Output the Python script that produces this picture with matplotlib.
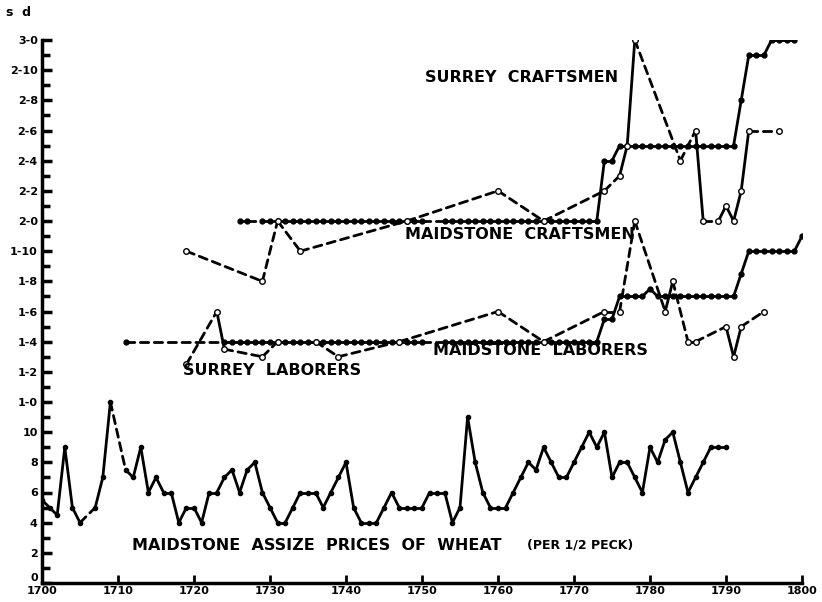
"""
Maidstone / Surrey wages vs Maidstone assize prices of wheat, 1700-1800.
Values in pence (s-d labels on the y axis).
"""

import matplotlib.pyplot as plt

# ---- data (years, pence) ----
WHEAT_YEARS = [1700, 1701, 1702, 1703, 1704, 1705, 1707, 1708, 1709] + list(range(1711, 1791))
WHEAT_VALS = [5.5, 5, 4.5, 9, 5, 4, 5, 7, 12,
              7.5, 7, 9, 6, 7, 6, 6, 4, 5, 5,
              4, 6, 6, 7, 7.5, 6, 7.5, 8, 6, 5,
              4, 4, 5, 6, 6, 6, 5, 6, 7, 8,
              5, 4, 4, 4, 5, 6, 5, 5, 5, 5,
              6, 6, 6, 4, 5, 11, 8, 6, 5, 5,
              5, 6, 7, 8, 7.5, 9, 8, 7, 7, 8,
              9, 10, 9, 10, 7, 8, 8, 7, 6, 9,
              8, 9.5, 10, 8, 6, 7, 8, 9, 9, 9]

MAID_CRAFT_YEARS = [1726, 1727] + list(range(1729, 1751)) + list(range(1753, 1800))
MAID_CRAFT_VALS = [24] * 45 + [28, 28] + [29] * 16 + [32, 35, 35, 35, 36, 36, 36, 36]

SURREY_CRAFT_YEARS = [1719, 1729, 1731, 1734, 1748, 1760, 1766, 1774, 1776, 1777, 1778,
                      1784, 1786, 1787, 1789, 1790, 1791, 1792, 1793, 1797]
SURREY_CRAFT_VALS = [22, 20, 24, 22, 24, 26, 24, 26, 27, 29, 36,
                     28, 30, 24, 24, 25, 24, 26, 30, 30]

MAID_LAB_YEARS = [1711] + list(range(1724, 1751)) + list(range(1753, 1801))
MAID_LAB_VALS = ([16] * 49 + [17.5, 17.5] + [19] * 4 + [19.5] + [19] * 11
                 + [20.5] + [22] * 7 + [23])

SURREY_LAB_YEARS = [1719, 1723, 1724, 1729, 1731, 1736, 1739, 1747, 1760, 1766, 1774, 1776,
                    1778, 1782, 1783, 1785, 1786, 1790, 1791, 1792, 1795]
SURREY_LAB_VALS = [14.5, 18, 15.5, 15, 16, 16, 15, 16, 18, 16, 18, 18,
                   24, 18, 20, 16, 16, 17, 15, 17, 18]

Y_TICKS = list(range(0, 37, 2))
Y_LABELS = ["0", "2", "4", "6", "8", "10", "1-0", "1-2", "1-4", "1-6", "1-8", "1-10",
            "2-0", "2-2", "2-4", "2-6", "2-8", "2-10", "3-0"]
X_TICKS = list(range(1700, 1801, 10))


def draw(ax, years, vals, face, ms=3.5):
    # solid between consecutive years, dashed across missing years
    for i in range(len(years) - 1):
        ls = "-" if years[i + 1] - years[i] == 1 else (0, (3, 2))
        ax.plot(years[i:i + 2], vals[i:i + 2], color="black", lw=2.0, linestyle=ls,
                solid_capstyle="round", dash_capstyle="round")
    ax.plot(years, vals, linestyle="none", marker="o", ms=ms, mfc=face,
            mec="black", mew=1.0)


def main() -> None:
    fig = plt.figure(figsize=(8.22, 6.02), dpi=100)
    ax = fig.add_axes([42 / 822, 19 / 602, 760 / 822, 543 / 602])

    draw(ax, WHEAT_YEARS, WHEAT_VALS, "black", ms=3)
    draw(ax, MAID_CRAFT_YEARS, MAID_CRAFT_VALS, "black")
    draw(ax, MAID_LAB_YEARS, MAID_LAB_VALS, "black")
    draw(ax, SURREY_CRAFT_YEARS, SURREY_CRAFT_VALS, "white", ms=4)
    draw(ax, SURREY_LAB_YEARS, SURREY_LAB_VALS, "white", ms=4)

    ax.set_xlim(1700, 1800)
    ax.set_ylim(0, 36)
    for side in ("top", "right"):
        ax.spines[side].set_visible(False)
    for side in ("left", "bottom"):
        ax.spines[side].set_linewidth(2.5)

    ax.set_yticks(Y_TICKS)
    ax.set_yticklabels(Y_LABELS, fontsize=8, fontweight="bold")
    ax.get_yticklabels()[0].set_va("bottom")  # keep "0" clear of "1700"
    ax.set_yticks(range(1, 36, 2), minor=True)
    ax.set_xticks(X_TICKS)
    ax.set_xticklabels([str(x) for x in X_TICKS], fontsize=8, fontweight="bold")
    ax.tick_params(axis="y", which="major", direction="in", length=7, width=2.5, pad=3)
    ax.tick_params(axis="y", which="minor", direction="in", length=6, width=2.5)
    ax.tick_params(axis="x", which="major", direction="in", length=6, width=2, pad=2)

    lab = dict(fontsize=11.5, fontweight="bold", va="center", ha="left")
    ax.text(1750.4, 33.5, "SURREY  CRAFTSMEN", **lab)
    ax.text(1747.8, 23.1, "MAIDSTONE  CRAFTSMEN", **lab)
    ax.text(1751.4, 15.4, "MAIDSTONE  LABORERS", **lab)
    ax.text(1718.6, 14.1, "SURREY  LABORERS", **lab)
    ax.text(1711.8, 2.5, "MAIDSTONE  ASSIZE  PRICES  OF  WHEAT", **lab)
    ax.text(1763.8, 2.5, "(PER 1/2 PECK)", fontsize=9, fontweight="bold",
            va="center", ha="left")
    fig.text(6 / 822, 1 - 12 / 602, "s  d", fontsize=9, fontweight="bold",
             va="center", ha="left")

    fig.savefig("out.png", dpi=100)


if __name__ == "__main__":
    main()
